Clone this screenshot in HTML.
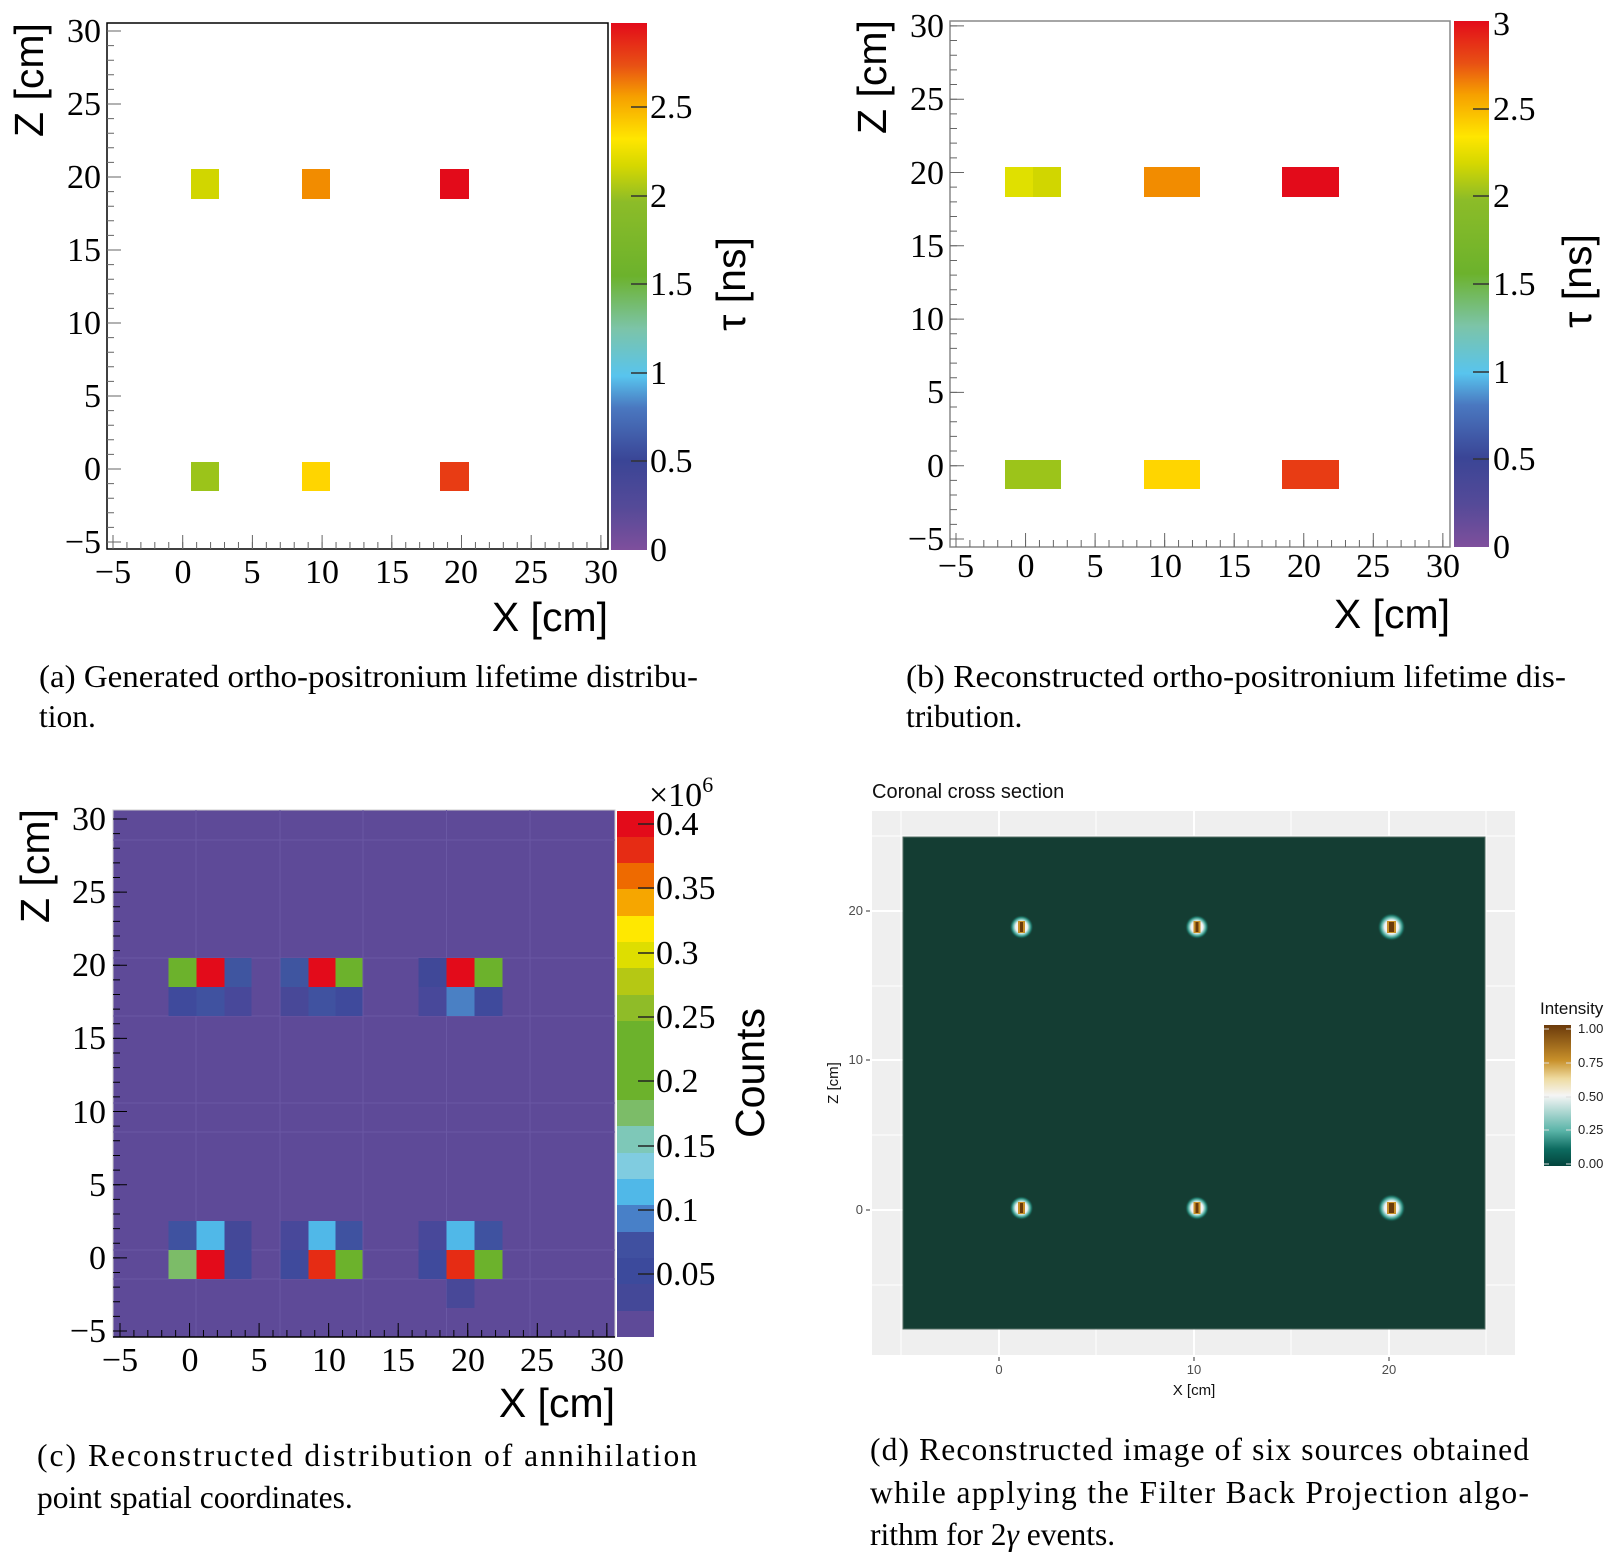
<!DOCTYPE html>
<html><head><meta charset="utf-8"><style>
html,body{margin:0;padding:0;background:#fff;}
svg{display:block;}
.s{font-family:"Liberation Serif",serif;font-size:34px;fill:#000;}
.t{font-family:"Liberation Sans",sans-serif;font-size:41px;fill:#000;}
.c{font-family:"Liberation Serif",serif;font-size:31.5px;fill:#000;}
.g{font-family:"Liberation Sans",sans-serif;font-size:13px;fill:#4d4d4d;}
</style></head><body>
<svg width="1612" height="1559" viewBox="0 0 1612 1559" xmlns="http://www.w3.org/2000/svg">
<defs>
<linearGradient id="rb" x1="0" y1="1" x2="0" y2="0">
<stop offset="0" stop-color="#7e4f9c"/><stop offset="0.08" stop-color="#554a98"/>
<stop offset="0.17" stop-color="#3a4596"/><stop offset="0.27" stop-color="#4a78c0"/>
<stop offset="0.33" stop-color="#58c4ee"/><stop offset="0.42" stop-color="#7cc4a8"/>
<stop offset="0.52" stop-color="#6cb22c"/><stop offset="0.66" stop-color="#8cbc28"/>
<stop offset="0.73" stop-color="#d6d800"/><stop offset="0.78" stop-color="#ffe600"/>
<stop offset="0.86" stop-color="#f6a000"/><stop offset="0.92" stop-color="#e85014"/>
<stop offset="1" stop-color="#e30b1a"/>
</linearGradient>
<linearGradient id="br" x1="0" y1="1" x2="0" y2="0">
<stop offset="0" stop-color="#03443c"/><stop offset="0.12" stop-color="#0d6b60"/>
<stop offset="0.25" stop-color="#5ab4a8"/><stop offset="0.5" stop-color="#f5f5f5"/>
<stop offset="0.62" stop-color="#eedba0"/><stop offset="0.75" stop-color="#c8902a"/>
<stop offset="1" stop-color="#6b3a0b"/>
</linearGradient>
<radialGradient id="src">
<stop offset="0" stop-color="#ffffff"/><stop offset="0.5" stop-color="#f0f0f0"/>
<stop offset="0.65" stop-color="#7cc6bc"/><stop offset="0.82" stop-color="#1f7a6c"/>
<stop offset="1" stop-color="#143d33" stop-opacity="0"/>
</radialGradient>
</defs>

<!-- ===== Panel a ===== -->
<rect x="107" y="23" width="501" height="526" fill="#fff" stroke="#000" stroke-width="1.5"/>
<rect x="191" y="169" width="28" height="30" fill="#d1d600"/>
<rect x="302" y="169" width="28" height="30" fill="#f28c00"/>
<rect x="440" y="169" width="29" height="30" fill="#e30b1a"/>
<rect x="191" y="462" width="28" height="29" fill="#9bc41a"/>
<rect x="302" y="462" width="28" height="29" fill="#ffd500"/>
<rect x="440" y="462" width="29" height="29" fill="#e83c14"/>
<g stroke="#666" fill="none">
<line x1="110.5" y1="542.5" x2="110.5" y2="30" stroke-width="7" stroke-dasharray="1 13.6"/>
<line x1="114" y1="542.5" x2="114" y2="30" stroke-width="14" stroke-dasharray="1 72"/>
<line x1="112.5" y1="545.5" x2="602" y2="545.5" stroke-width="7" stroke-dasharray="1 12.94"/>
<line x1="112.5" y1="542" x2="602" y2="542" stroke-width="14" stroke-dasharray="1 68.7"/>
</g>
<rect x="611" y="23" width="36" height="527" fill="url(#rb)"/>
<g stroke="#333" stroke-width="1.5"><line x1="631" y1="461" x2="647" y2="461"/><line x1="631" y1="373" x2="647" y2="373"/><line x1="631" y1="284" x2="647" y2="284"/><line x1="631" y1="196" x2="647" y2="196"/><line x1="631" y1="107" x2="647" y2="107"/></g>
<g class="s" text-anchor="end">
<text x="101" y="553">−5</text><text x="101" y="480">0</text><text x="101" y="407">5</text><text x="101" y="334">10</text><text x="101" y="261">15</text><text x="101" y="188">20</text><text x="101" y="115">25</text><text x="101" y="42">30</text>
</g>
<g class="s" text-anchor="middle">
<text x="113" y="583">−5</text><text x="183" y="583">0</text><text x="252" y="583">5</text><text x="322" y="583">10</text><text x="392" y="583">15</text><text x="461" y="583">20</text><text x="531" y="583">25</text><text x="601" y="583">30</text>
</g>
<g class="s"><text x="650" y="561">0</text><text x="650" y="472">0.5</text><text x="650" y="384">1</text><text x="650" y="295">1.5</text><text x="650" y="207">2</text><text x="650" y="118">2.5</text></g>
<text class="t" x="608" y="631" text-anchor="end">X [cm]</text>
<text class="t" transform="translate(43,80) rotate(-90)" text-anchor="middle">Z [cm]</text>
<text class="t" transform="translate(745,284) rotate(-90)" text-anchor="middle">τ [ns]</text>
<text class="c" x="39" y="687" textLength="659" lengthAdjust="spacingAndGlyphs">(a) Generated ortho-positronium lifetime distribu-</text>
<text class="c" x="39" y="727">tion.</text>

<!-- ===== Panel b ===== -->
<rect x="950" y="21" width="500" height="526" fill="#fff" stroke="#888" stroke-width="1.5"/>
<rect x="1005" y="167" width="28" height="30" fill="#e0e000"/>
<rect x="1033" y="167" width="28" height="30" fill="#d1d600"/>
<rect x="1144" y="167" width="56" height="30" fill="#f28c00"/>
<rect x="1282" y="167" width="57" height="30" fill="#e30b1a"/>
<rect x="1005" y="460" width="56" height="29" fill="#9cc41a"/>
<rect x="1144" y="460" width="56" height="29" fill="#ffd500"/>
<rect x="1282" y="460" width="57" height="29" fill="#e83c14"/>
<g stroke="#666" fill="none">
<line x1="953.5" y1="539.5" x2="953.5" y2="25" stroke-width="7" stroke-dasharray="1 13.66"/>
<line x1="957" y1="539.5" x2="957" y2="25" stroke-width="14" stroke-dasharray="1 72.3"/>
<line x1="955.5" y1="543.5" x2="1444" y2="543.5" stroke-width="7" stroke-dasharray="1 12.91"/>
<line x1="955.5" y1="540" x2="1444" y2="540" stroke-width="14" stroke-dasharray="1 68.55"/>
</g>
<rect x="1454" y="21" width="35" height="526" fill="url(#rb)"/>
<g stroke="#333" stroke-width="1.5"><line x1="1473" y1="459" x2="1489" y2="459"/><line x1="1473" y1="372" x2="1489" y2="372"/><line x1="1473" y1="284" x2="1489" y2="284"/><line x1="1473" y1="196" x2="1489" y2="196"/><line x1="1473" y1="109" x2="1489" y2="109"/></g>
<g class="s" text-anchor="end">
<text x="944" y="550">−5</text><text x="944" y="477">0</text><text x="944" y="403">5</text><text x="944" y="330">10</text><text x="944" y="257">15</text><text x="944" y="184">20</text><text x="944" y="110">25</text><text x="944" y="37">30</text>
</g>
<g class="s" text-anchor="middle">
<text x="956" y="577">−5</text><text x="1026" y="577">0</text><text x="1095" y="577">5</text><text x="1165" y="577">10</text><text x="1234" y="577">15</text><text x="1304" y="577">20</text><text x="1373" y="577">25</text><text x="1443" y="577">30</text>
</g>
<g class="s"><text x="1493" y="558">0</text><text x="1493" y="470">0.5</text><text x="1493" y="383">1</text><text x="1493" y="295">1.5</text><text x="1493" y="207">2</text><text x="1493" y="120">2.5</text><text x="1493" y="35">3</text></g>
<text class="t" x="1450" y="628" text-anchor="end">X [cm]</text>
<text class="t" transform="translate(886,77) rotate(-90)" text-anchor="middle">Z [cm]</text>
<text class="t" transform="translate(1591,281) rotate(-90)" text-anchor="middle">τ [ns]</text>
<text class="c" x="906" y="687" textLength="660" lengthAdjust="spacingAndGlyphs">(b) Reconstructed ortho-positronium lifetime dis-</text>
<text class="c" x="906" y="727">tribution.</text>

<!-- ===== Panel c ===== -->
<rect x="113" y="810" width="502" height="527" fill="#5e4a98" stroke="#ccc" stroke-width="1"/>
<g stroke="#6a58a4" stroke-width="1">
<line x1="196" y1="810" x2="196" y2="1337"/><line x1="280" y1="810" x2="280" y2="1337"/><line x1="363" y1="810" x2="363" y2="1337"/><line x1="446.5" y1="810" x2="446.5" y2="1337"/><line x1="530" y1="810" x2="530" y2="1337"/>
<line x1="113" y1="840" x2="615" y2="840"/><line x1="113" y1="958" x2="615" y2="958"/><line x1="113" y1="1016" x2="615" y2="1016"/><line x1="113" y1="1103" x2="615" y2="1103"/><line x1="113" y1="1132" x2="615" y2="1132"/><line x1="113" y1="1250" x2="615" y2="1250"/><line x1="113" y1="1279" x2="615" y2="1279"/>
</g>
<rect x="168.5" y="958" width="28" height="29" fill="#6cb22c"/><rect x="196.5" y="958" width="28" height="29" fill="#e30b1a"/><rect x="224.5" y="958" width="27" height="29" fill="#3f55a0"/>
<rect x="280.5" y="958" width="28" height="29" fill="#3f55a0"/><rect x="308.5" y="958" width="27" height="29" fill="#e30b1a"/><rect x="335.5" y="958" width="27" height="29" fill="#6cb22c"/>
<rect x="418.5" y="958" width="28" height="29" fill="#404898"/><rect x="446.5" y="958" width="28" height="29" fill="#e30b1a"/><rect x="474.5" y="958" width="28" height="29" fill="#6cb22c"/>
<rect x="168.5" y="987" width="28" height="29" fill="#3f4a9c"/><rect x="196.5" y="987" width="28" height="29" fill="#4052a0"/><rect x="224.5" y="987" width="27" height="29" fill="#48489a"/>
<rect x="280.5" y="987" width="28" height="29" fill="#484898"/><rect x="308.5" y="987" width="27" height="29" fill="#4052a0"/><rect x="335.5" y="987" width="27" height="29" fill="#3f4a9c"/>
<rect x="418.5" y="987" width="28" height="29" fill="#48489a"/><rect x="446.5" y="987" width="28" height="29" fill="#4a80c4"/><rect x="474.5" y="987" width="28" height="29" fill="#3f4a9c"/>
<rect x="168.5" y="1221" width="28" height="29" fill="#3f52a0"/><rect x="196.5" y="1221" width="28" height="29" fill="#50b8e8"/><rect x="224.5" y="1221" width="27" height="29" fill="#444898"/>
<rect x="280.5" y="1221" width="28" height="29" fill="#48489a"/><rect x="308.5" y="1221" width="27" height="29" fill="#50b8e8"/><rect x="335.5" y="1221" width="27" height="29" fill="#3f52a0"/>
<rect x="418.5" y="1221" width="28" height="29" fill="#48489a"/><rect x="446.5" y="1221" width="28" height="29" fill="#50b8e8"/><rect x="474.5" y="1221" width="28" height="29" fill="#3f52a0"/>
<rect x="168.5" y="1250" width="28" height="29" fill="#7cbc68"/><rect x="196.5" y="1250" width="28" height="29" fill="#e30b1a"/><rect x="224.5" y="1250" width="27" height="29" fill="#3f4a9c"/>
<rect x="280.5" y="1250" width="28" height="29" fill="#3f4a9c"/><rect x="308.5" y="1250" width="27" height="29" fill="#e62c14"/><rect x="335.5" y="1250" width="27" height="29" fill="#6cb22c"/>
<rect x="418.5" y="1250" width="28" height="29" fill="#3f4a9c"/><rect x="446.5" y="1250" width="28" height="29" fill="#e62c14"/><rect x="474.5" y="1250" width="28" height="29" fill="#6cb22c"/>
<rect x="446.5" y="1279" width="28" height="29" fill="#484898"/>
<g stroke="#000" fill="none">
<line x1="116.5" y1="1331.5" x2="116.5" y2="818" stroke-width="7" stroke-dasharray="1 13.63"/>
<line x1="120" y1="1331.5" x2="120" y2="818" stroke-width="14" stroke-dasharray="1 72.15"/>
<line x1="119.5" y1="1333.5" x2="608" y2="1333.5" stroke-width="7" stroke-dasharray="1 12.91"/>
<line x1="119.5" y1="1330" x2="608" y2="1330" stroke-width="14" stroke-dasharray="1 68.55"/>
</g>
<line x1="113" y1="1337" x2="615" y2="1337" stroke="#000" stroke-width="1.5"/>
<g>
<rect x="617" y="811" width="37" height="27" fill="#e30b1a"/><rect x="617" y="837" width="37" height="27" fill="#e62c14"/><rect x="617" y="863" width="37" height="27" fill="#ee6a00"/><rect x="617" y="889" width="37" height="27" fill="#f6a600"/><rect x="617" y="916" width="37" height="27" fill="#ffe800"/><rect x="617" y="942" width="37" height="27" fill="#dede00"/><rect x="617" y="968" width="37" height="27" fill="#b5c814"/><rect x="617" y="995" width="37" height="27" fill="#8fbc28"/><rect x="617" y="1021" width="37" height="27" fill="#6cb22c"/><rect x="617" y="1047" width="37" height="27" fill="#6cb22c"/><rect x="617" y="1074" width="37" height="27" fill="#6cb22c"/><rect x="617" y="1100" width="37" height="27" fill="#7cbc68"/><rect x="617" y="1126" width="37" height="27" fill="#7ec8b8"/><rect x="617" y="1153" width="37" height="27" fill="#80cce0"/><rect x="617" y="1179" width="37" height="27" fill="#50b8e8"/><rect x="617" y="1205" width="37" height="27" fill="#4880c8"/><rect x="617" y="1232" width="37" height="27" fill="#4050a0"/><rect x="617" y="1258" width="37" height="27" fill="#3c4a9c"/><rect x="617" y="1284" width="37" height="27" fill="#444898"/><rect x="617" y="1311" width="37" height="26" fill="#5e4a98"/>
</g>
<g stroke="#222" stroke-width="1.5"><line x1="638" y1="824" x2="654" y2="824"/><line x1="638" y1="888" x2="654" y2="888"/><line x1="638" y1="953" x2="654" y2="953"/><line x1="638" y1="1017" x2="654" y2="1017"/><line x1="638" y1="1081" x2="654" y2="1081"/><line x1="638" y1="1146" x2="654" y2="1146"/><line x1="638" y1="1210" x2="654" y2="1210"/><line x1="638" y1="1274" x2="654" y2="1274"/></g>
<g class="s" text-anchor="end">
<text x="106" y="1342">−5</text><text x="106" y="1269">0</text><text x="106" y="1196">5</text><text x="106" y="1123">10</text><text x="106" y="1049">15</text><text x="106" y="976">20</text><text x="106" y="903">25</text><text x="106" y="830">30</text>
</g>
<g class="s" text-anchor="middle">
<text x="120" y="1371">−5</text><text x="190" y="1371">0</text><text x="259" y="1371">5</text><text x="329" y="1371">10</text><text x="398" y="1371">15</text><text x="468" y="1371">20</text><text x="537" y="1371">25</text><text x="607" y="1371">30</text>
</g>
<g class="s"><text x="656" y="835">0.4</text><text x="656" y="899">0.35</text><text x="656" y="964">0.3</text><text x="656" y="1028">0.25</text><text x="656" y="1092">0.2</text><text x="656" y="1157">0.15</text><text x="656" y="1221">0.1</text><text x="656" y="1285">0.05</text></g>
<text class="s" x="649" y="806">×10<tspan font-size="22" dy="-14">6</tspan></text>
<text class="t" x="615" y="1417" text-anchor="end">X [cm]</text>
<text class="t" transform="translate(49,866) rotate(-90)" text-anchor="middle">Z [cm]</text>
<text class="t" transform="translate(764,1073) rotate(-90)" text-anchor="middle">Counts</text>
<text class="c" x="37" y="1466" textLength="660" lengthAdjust="spacing">(c) Reconstructed distribution of annihilation</text>
<text class="c" x="37" y="1508">point spatial coordinates.</text>

<!-- ===== Panel d ===== -->
<text x="872" y="798" font-family="Liberation Sans, sans-serif" font-size="20" fill="#111">Coronal cross section</text>
<rect x="872" y="811" width="643" height="544" fill="#efefef"/>
<g stroke="#fff" stroke-width="1">
<line x1="901" y1="811" x2="901" y2="1355"/><line x1="1096" y1="811" x2="1096" y2="1355"/><line x1="1291" y1="811" x2="1291" y2="1355"/><line x1="1486" y1="811" x2="1486" y2="1355"/>
<line x1="872" y1="836" x2="1515" y2="836"/><line x1="872" y1="986" x2="1515" y2="986"/><line x1="872" y1="1135" x2="1515" y2="1135"/><line x1="872" y1="1285" x2="1515" y2="1285"/>
</g>
<g stroke="#fff" stroke-width="2">
<line x1="999" y1="811" x2="999" y2="1355"/><line x1="1194" y1="811" x2="1194" y2="1355"/><line x1="1389" y1="811" x2="1389" y2="1355"/>
<line x1="872" y1="911" x2="1515" y2="911"/><line x1="872" y1="1060" x2="1515" y2="1060"/><line x1="872" y1="1210" x2="1515" y2="1210"/>
</g>
<rect x="903" y="837" width="582" height="492" fill="#143d33" stroke="#556e66" stroke-width="1"/>
<g>
<circle cx="1021.5" cy="927" r="12" fill="url(#src)"/><circle cx="1197" cy="927" r="12" fill="url(#src)"/><circle cx="1391.5" cy="927" r="14" fill="url(#src)"/>
<circle cx="1021.5" cy="1208" r="12" fill="url(#src)"/><circle cx="1197" cy="1208" r="12" fill="url(#src)"/><circle cx="1391.5" cy="1208" r="14" fill="url(#src)"/>
</g>
<g fill="#c8902a">
<rect x="1018" y="921" width="7" height="12"/><rect x="1193.5" y="921" width="7" height="12"/><rect x="1387" y="921" width="9" height="12"/>
<rect x="1018" y="1202" width="7" height="12"/><rect x="1193.5" y="1202" width="7" height="12"/><rect x="1387" y="1202" width="9" height="12"/>
</g>
<g fill="#6b3a0b">
<rect x="1020" y="922" width="3" height="10"/><rect x="1195.5" y="922" width="3" height="10"/><rect x="1389" y="922" width="5" height="10"/>
<rect x="1020" y="1203" width="3" height="10"/><rect x="1195.5" y="1203" width="3" height="10"/><rect x="1389" y="1203" width="5" height="10"/>
</g>
<g stroke="#333" stroke-width="1"><line x1="866" y1="911" x2="870" y2="911"/><line x1="866" y1="1060" x2="870" y2="1060"/><line x1="866" y1="1210" x2="870" y2="1210"/>
<line x1="999" y1="1357" x2="999" y2="1361"/><line x1="1194" y1="1357" x2="1194" y2="1361"/><line x1="1389" y1="1357" x2="1389" y2="1361"/></g>
<g class="g" text-anchor="end"><text x="863" y="915">20</text><text x="863" y="1064">10</text><text x="863" y="1214">0</text></g>
<g class="g" text-anchor="middle"><text x="999" y="1374">0</text><text x="1194" y="1374">10</text><text x="1389" y="1374">20</text></g>
<text x="1194" y="1395" text-anchor="middle" font-family="Liberation Sans, sans-serif" font-size="15" fill="#111">X [cm]</text>
<text transform="translate(838,1083) rotate(-90)" text-anchor="middle" font-family="Liberation Sans, sans-serif" font-size="15" fill="#111">Z [cm]</text>
<text x="1540" y="1014" font-family="Liberation Sans, sans-serif" font-size="17" fill="#111">Intensity</text>
<rect x="1544" y="1025" width="27" height="141" fill="url(#br)"/>
<g stroke="#ddd" stroke-width="1"><line x1="1544" y1="1029" x2="1549" y2="1029"/><line x1="1566" y1="1029" x2="1571" y2="1029"/><line x1="1544" y1="1063" x2="1549" y2="1063"/><line x1="1566" y1="1063" x2="1571" y2="1063"/><line x1="1544" y1="1097" x2="1549" y2="1097"/><line x1="1566" y1="1097" x2="1571" y2="1097"/><line x1="1544" y1="1130" x2="1549" y2="1130"/><line x1="1566" y1="1130" x2="1571" y2="1130"/><line x1="1544" y1="1164" x2="1549" y2="1164"/><line x1="1566" y1="1164" x2="1571" y2="1164"/></g>
<g font-family="Liberation Sans, sans-serif" font-size="13" fill="#222"><text x="1578" y="1033">1.00</text><text x="1578" y="1067">0.75</text><text x="1578" y="1101">0.50</text><text x="1578" y="1134">0.25</text><text x="1578" y="1168">0.00</text></g>
<text class="c" x="870" y="1460" textLength="659" lengthAdjust="spacing">(d) Reconstructed image of six sources obtained</text>
<text class="c" x="870" y="1503" textLength="659" lengthAdjust="spacing">while applying the Filter Back Projection algo-</text>
<text class="c" x="870" y="1545">rithm for 2<tspan font-style="italic">γ</tspan> events.</text>
</svg>
</body></html>
